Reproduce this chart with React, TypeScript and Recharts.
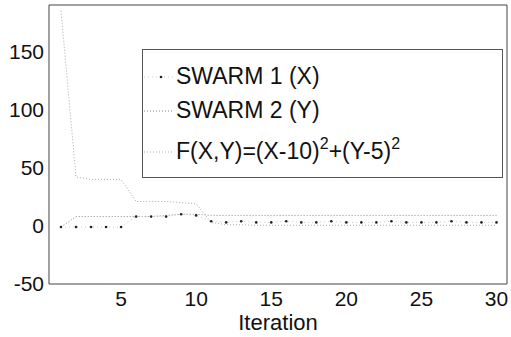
import React from "react";
import {
  LineChart,
  Line,
  XAxis,
  YAxis,
  Legend,
} from "recharts";

// iteration numbers, 1..30
const iterations: number[] = [
  1, 2, 3, 4, 5, 6, 7, 8, 9, 10, 11, 12, 13, 14, 15, 16, 17, 18, 19, 20, 21,
  22, 23, 24, 25, 26, 27, 28, 29, 30,
];
const swarm1: number[] = [
  -1, -1, -1, -1, -1, 8, 8, 8, 10, 9, 4, 3, 4, 3, 3, 4, 3, 3, 4, 3, 3, 3, 4, 3,
  3, 3, 4, 3, 3, 3,
];
const swarm2: number[] = [
  -1, 8, 8, 8, 8, 8, 8, 9, 10, 10, 9, 9, 9, 9, 9, 9, 9, 9, 9, 9, 9, 9, 9, 9, 9,
  9, 9, 9, 9, 9,
];
const fxy: number[] = [
  185, 42, 40, 40, 40, 21, 21, 21, 20, 19, 3, 1, 1, 0.5, 0.5, 0.5, 0.5, 0.5,
  0.5, 0.5, 0.5, 0.5, 0.5, 0.5, 0.5, 0.5, 0.5, 0.5, 0.5, 0.5,
];
const xTicks: number[] = [5, 10, 15, 20, 25, 30];
const yTicks: number[] = [-50, 0, 50, 100, 150];

const data = iterations.map((it, i) => ({
  it,
  x: swarm1[i],
  y: swarm2[i],
  f: fxy[i],
}));

const FONT = "'Liberation Sans', Arial, Helvetica, sans-serif";
const AXIS = "#444";

const Sample = ({ stroke, dash, dot }: { stroke: string; dash: string; dot?: boolean }) => (
  <svg width={32} height={10} style={{ display: "block" }}>
    <line x1={1} y1={5} x2={31} y2={5} stroke={stroke} strokeDasharray={dash} />
    {dot ? <circle cx={18} cy={5} r={1.3} fill="#222" /> : null}
  </svg>
);

const LegendBox = () => (
  <div
    style={{
      position: "relative",
      width: 361,
      height: 129,
      boxSizing: "border-box",
      border: "1px solid #555",
      background: "#fff",
      fontFamily: FONT,
      fontSize: 23,
      color: "#111",
    }}
  >
    <div style={{ position: "absolute", left: 0, top: 13, display: "flex", alignItems: "center", gap: 1 }}>
      <Sample stroke="#ccc" dash="1 3" dot />
      <span>SWARM 1 (X)</span>
    </div>
    <div style={{ position: "absolute", left: 0, top: 47, display: "flex", alignItems: "center", gap: 1 }}>
      <Sample stroke="#888" dash="1 2" />
      <span>SWARM 2 (Y)</span>
    </div>
    <div style={{ position: "absolute", left: 0, top: 88, display: "flex", alignItems: "center", gap: 1 }}>
      <Sample stroke="#aaa" dash="1 2" />
      <span>
        F(X,Y)=(X-10)<sup style={{ fontSize: 16, verticalAlign: "10px", lineHeight: 0 }}>2</sup>+(Y-5)
        <sup style={{ fontSize: 16, verticalAlign: "10px", lineHeight: 0 }}>2</sup>
      </span>
    </div>
  </div>
);

const App = () => {
  return (
    <div
      style={{
        position: "absolute",
        left: 0,
        top: 0,
        width: 511,
        height: 337,
        background: "#fff",
      }}
    >
      <LineChart
        width={511}
        height={337}
        data={data}
        margin={{ top: 5, right: 4, bottom: 0, left: 0 }}
      >
        <XAxis
          xAxisId="b"
          dataKey="it"
          type="number"
          domain={[0.2, 30.7]}
          ticks={xTicks}
          allowDataOverflow
          height={53}
          tickLine={false}
          tickSize={0}
          tickMargin={7}
          stroke={AXIS}
          tick={{ fill: "#111", fontSize: 21, fontFamily: FONT }}
          label={{
            value: "Iteration",
            position: "insideBottom",
            offset: 7,
            fill: "#111",
            fontSize: 22,
            fontFamily: FONT,
          }}
        />
        <XAxis
          xAxisId="bm"
          dataKey="it"
          type="number"
          domain={[0.2, 30.7]}
          ticks={xTicks}
          allowDataOverflow
          mirror
          axisLine={false}
          tick={false}
          tickSize={5}
          stroke={AXIS}
        />
        <XAxis
          xAxisId="t"
          orientation="top"
          dataKey="it"
          type="number"
          domain={[0.2, 30.7]}
          ticks={xTicks}
          allowDataOverflow
          mirror
          tick={false}
          tickSize={5}
          stroke={AXIS}
        />
        <YAxis
          yAxisId="l"
          type="number"
          domain={[-50, 190]}
          ticks={yTicks}
          allowDataOverflow
          width={49}
          tickLine={false}
          tickSize={0}
          tickMargin={5}
          stroke={AXIS}
          tick={{ fill: "#111", fontSize: 21, fontFamily: FONT }}
        />
        <YAxis
          yAxisId="lm"
          type="number"
          domain={[-50, 190]}
          ticks={yTicks}
          allowDataOverflow
          mirror
          axisLine={false}
          tick={false}
          tickSize={5}
          stroke={AXIS}
        />
        <YAxis
          yAxisId="r"
          orientation="right"
          type="number"
          domain={[-50, 190]}
          ticks={yTicks}
          allowDataOverflow
          mirror
          tick={false}
          tickSize={5}
          stroke={AXIS}
        />
        <Legend
          layout="horizontal"
          verticalAlign="middle"
          align="center"
          content={() => <LegendBox />}
          wrapperStyle={{ position: "absolute", left: 142, top: 49, width: 361, height: 129 }}
        />
        <Line
          xAxisId="b"
          yAxisId="l"
          dataKey="f"
          name="F(X,Y)"
          type="linear"
          stroke="#aaa"
          strokeDasharray="1 2"
          strokeWidth={1}
          dot={false}
          isAnimationActive={false}
        />
        <Line
          xAxisId="b"
          yAxisId="l"
          dataKey="y"
          name="SWARM 2 (Y)"
          type="linear"
          stroke="#888"
          strokeDasharray="1 2"
          strokeWidth={1}
          dot={false}
          isAnimationActive={false}
        />
        <Line
          xAxisId="b"
          yAxisId="l"
          dataKey="x"
          name="SWARM 1 (X)"
          type="linear"
          stroke="#ccc"
          strokeDasharray="1 3"
          strokeWidth={1}
          dot={{ r: 1.3, fill: "#222", stroke: "none" }}
          isAnimationActive={false}
        />
      </LineChart>
    </div>
  );
};

export default App;
